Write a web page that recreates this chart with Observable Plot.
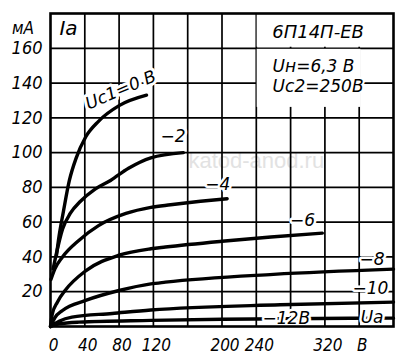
<!DOCTYPE html>
<html>
<head>
<meta charset="utf-8">
<script src="https://cdn.jsdelivr.net/npm/d3@7"></script>
<script src="https://cdn.jsdelivr.net/npm/@observablehq/plot@0.6"></script>
<style>
  html, body { margin: 0; padding: 0; background: #fff; }
</style>
</head>
<body>
<div id="chart"></div>
<script>
// ---- data ----
const gridBias = [0, -2, -4, -6, -8, -10, -12];
const ua0  = [7, 10, 15, 22, 30, 41, 56, 80, 112];
const ia0  = [41, 52, 66, 84, 97, 109, 118, 127, 133];
const ua2  = [3, 6, 14, 23, 35, 52, 70, 91, 117, 155];
const ia2  = [33, 40, 56, 65, 72, 79, 84, 91, 97, 100];
const ua4  = [0.5, 5, 14, 33, 56, 88, 117, 140, 175, 206];
const ia4  = [27, 33, 40, 49.5, 58, 65, 68.5, 70, 72, 73.5];
const ua6  = [0, 2, 8, 17.5, 41, 80, 117, 134, 200, 257, 317];
const ia6  = [0, 7, 14, 21, 32, 41, 44.7, 45.7, 49, 51.5, 53.7];
const ua8  = [0, 5, 14, 41, 80, 117, 134, 260, 400];
const ia8  = [0, 5, 9.2, 15, 20.7, 24.5, 25.5, 30, 33];
const ua10 = [0, 10, 25, 72, 117, 268, 400];
const ia10 = [0, 3, 5.4, 7.5, 9.5, 12.5, 14];
const ua12 = [0, 10, 33, 117, 200, 400];
const ia12 = [0, 1.5, 2.5, 3.5, 4.2, 4.8];

const xTicks = [0, 40, 80, 120, 200, 240, 320, 360];
const xTickLabels = ["0", "40", "80", "120", "200", "240", "320", "В"];
const xGrid = [40, 80, 120, 160, 200, 240, 280, 320, 360];
const yTicks = [20, 40, 60, 80, 100, 120, 140, 160];
const yGrid = [20, 40, 60, 80, 100, 120, 140, 160];

const curveLabels = ["−2", "−4", "−6", "−8", "−10", "−12В", "Ua"];
const curveLabelU = [143, 195, 294, 375, 373, 275, 375];
const curveLabelI = [109, 81.6, 61, 38.6, 21.9, 4.6, 5.2];

const title = "6П14П-ЕВ";
const params = ["Uн=6,3 В", "Uc2=250В"];

// ---- build table ----
const uaSets = [ua0, ua2, ua4, ua6, ua8, ua10, ua12];
const iaSets = [ia0, ia2, ia4, ia6, ia8, ia10, ia12];
const rows = [];
gridBias.forEach((g, k) => uaSets[k].forEach((u, j) => rows.push({ug: g, ua: u, ia: iaSets[k][j]})));
const labelRows = curveLabels.map((t, i) => ({t, ua: curveLabelU[i], ia: curveLabelI[i]}));

const font = "DejaVu Sans";
const axisFont = "DejaVu Sans Condensed";
const chart = Plot.plot({
  width: 400,
  height: 360,
  marginLeft: 50,
  marginRight: 7,
  marginTop: 13,
  marginBottom: 34,
  style: {fontFamily: font, background: "#fff", color: "#000"},
  x: {domain: [0, 400]},
  y: {domain: [0, 180]},
  marks: [
    // watermark
    Plot.text(["katod-anod.ru"], {x: [240], y: [95], text: d => d, fill: "#e2e2e2", fontSize: 22, fontFamily: "Liberation Sans"}),
    // grid
    Plot.ruleX(xGrid, {stroke: "#000", strokeWidth: 1.7}),
    Plot.ruleY(yGrid, {stroke: "#000", strokeWidth: 1.7}),
    // white boxes for title / parameters
    Plot.rect([{x1: 241, x2: 399, y1: 160.6, y2: 179.5}], {x1: "x1", x2: "x2", y1: "y1", y2: "y2", fill: "#fff"}),
    Plot.rect([{x1: 241, x2: 362, y1: 126, y2: 159.4}], {x1: "x1", x2: "x2", y1: "y1", y2: "y2", fill: "#fff"}),
    // curves
    Plot.line(rows, {x: "ua", y: "ia", z: "ug", curve: "monotone-x", stroke: "#000", strokeWidth: 3.4, strokeLinecap: "round"}),
    // labels
    Plot.text(labelRows, {x: "ua", y: "ia", text: "t", fontSize: 17, fontStyle: "italic", fill: "#000", stroke: "#fff", strokeWidth: 5}),
    Plot.text(["Uc1=0 В"], {x: [82], y: [136], text: d => d, rotate: -23, fontSize: 17, fontStyle: "italic", fill: "#000", stroke: "#fff", strokeWidth: 6}),
    Plot.text(["Ia"], {x: [21], y: [171.5], text: d => d, fontSize: 20, fontStyle: "italic", fill: "#000"}),
    Plot.text(["мА"], {x: [-32], y: [171.5], text: d => d, fontSize: 17, fontStyle: "italic", fill: "#000", fontFamily: axisFont}),
    Plot.text([title], {x: [312], y: [169], text: d => d, fontSize: 18, fontStyle: "italic", fill: "#000"}),
    Plot.text(params, {x: [259, 259], y: [149.5, 138], text: d => d, textAnchor: "start", fontSize: 17, fontStyle: "italic", fill: "#000", stroke: "#fff", strokeWidth: 4}),
    // axes
    Plot.axisY({ticks: yTicks, tickSize: 0, tickPadding: 8, fontSize: 18, fontStyle: "italic", fontFamily: axisFont, label: null}),
    Plot.axisX({ticks: xTicks, tickFormat: d => xTickLabels[xTicks.indexOf(d)], tickSize: 0, tickPadding: 12, fontSize: 17, fontStyle: "italic", fontFamily: axisFont, label: null, dx: 3}),
    Plot.frame({stroke: "#000", strokeWidth: 2.6})
  ]
});
document.getElementById("chart").appendChild(chart);
</script>
</body>
</html>
